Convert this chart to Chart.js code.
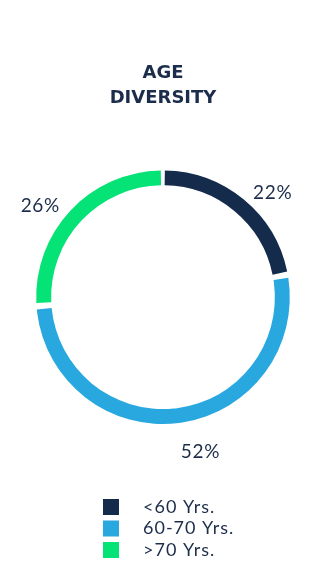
<!DOCTYPE html>
<html>
<head>
<meta charset="utf-8">
<script src="https://cdn.jsdelivr.net/npm/chart.js@4"></script>
<style>
  html, body { margin: 0; padding: 0; background: #ffffff; }
  #wrap { width: 326px; height: 576px; }
</style>
</head>
<body>
<div id="wrap"><canvas id="ageChart" width="326" height="576"></canvas></div>
<script>
const titleLines = ['AGE', 'DIVERSITY'];
const categories = ['<60 Yrs.', '60-70 Yrs.', '>70 Yrs.'];
const shares = [22, 52, 26];
const colors = ['#152b4c', '#29a8e0', '#05e377'];

const textColor = '#1c2d4b';

// percent labels outside the ring
const outsideLabels = {
    id: 'outsideLabels',
    afterDatasetsDraw(chart) {
        const ctx = chart.ctx;
        const arcs = chart.getDatasetMeta(0).data;
        ctx.save();
        ctx.font = '400 19px Lato, sans-serif';
        ctx.letterSpacing = '0.7px';
        ctx.fillStyle = textColor;
        arcs.forEach((arc, i) => {
            const mid = (arc.startAngle + arc.endAngle) / 2;
            const r = arc.outerRadius + 17;
            const x = arc.x + Math.cos(mid) * r;
            const y = arc.y + Math.sin(mid) * r;
            ctx.textAlign = Math.cos(mid) >= 0 ? 'left' : 'right';
            ctx.textBaseline = Math.sin(mid) > 0.5 ? 'top' : 'middle';
            ctx.fillText(shares[i] + '%', x, y + 5);
        });
        ctx.restore();
    }
};

// stacked legend under the chart
const stackedLegend = {
    id: 'stackedLegend',
    afterDraw(chart) {
        const ctx = chart.ctx;
        const left = chart.width / 2 - 60;
        const top = chart.height - 69;
        ctx.save();
        ctx.font = '400 18px Lato, sans-serif';
        ctx.letterSpacing = '1px';
        ctx.textBaseline = 'middle';
        ctx.textAlign = 'left';
        categories.forEach((name, i) => {
            const cy = top + i * 21.5;
            ctx.fillStyle = colors[i];
            ctx.fillRect(left, cy - 8, 16, 16);
            ctx.fillStyle = textColor;
            ctx.fillText(name, left + 40, cy);
        });
        ctx.restore();
    }
};

const ctx = document.getElementById('ageChart').getContext('2d');
new Chart(ctx, {
    type: 'doughnut',
    data: {
        labels: categories,
        datasets: [{
            data: shares,
            backgroundColor: colors,
            borderWidth: 0,
            spacing: 5
        }]
    },
    options: {
        responsive: false,
        animation: false,
        cutout: '88%',
        layout: {
            padding: { left: 36, right: 36, top: 0, bottom: 152 }
        },
        plugins: {
            legend: { display: false },
            tooltip: { enabled: false },
            title: {
                display: true,
                text: titleLines,
                color: textColor,
                font: { family: '"DejaVu Sans", sans-serif', size: 18, weight: 'bold', lineHeight: 1.4 },
                padding: { top: 61, bottom: 59 }
            }
        }
    },
    plugins: [outsideLabels, stackedLegend]
});
</script>
</body>
</html>
